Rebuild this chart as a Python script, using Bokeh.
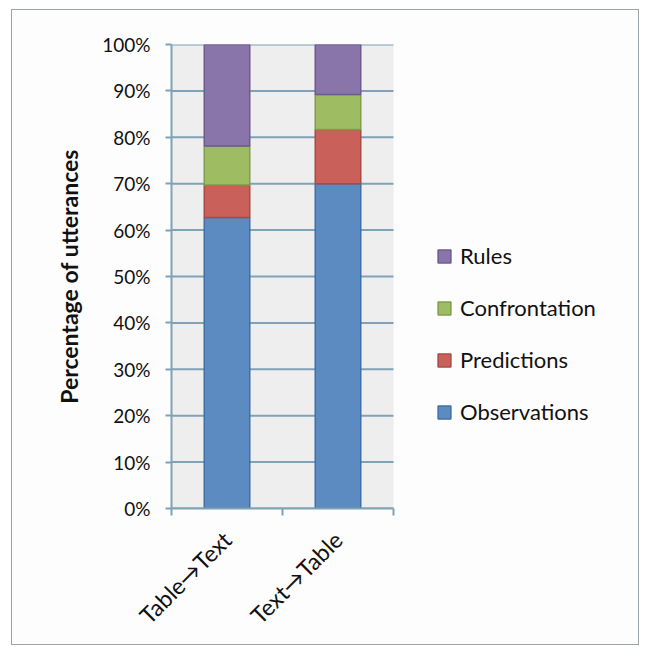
from math import pi
from bokeh.plotting import figure
from bokeh.models import (ColumnDataSource, FixedTicker, NumeralTickFormatter, Range1d,
                          Legend, LegendItem, BoxAnnotation)
from bokeh.embed import file_html
from bokeh.resources import INLINE

categories = ["Table→Text", "Text→Table"]
observations = [0.627, 0.700]
predictions = [0.070, 0.117]
confrontation = [0.084, 0.075]
rules = [0.219, 0.108]
y_ticks = [i / 10 for i in range(11)]

series = ["observations", "predictions", "confrontation", "rules"]
names = ["Observations", "Predictions", "Confrontation", "Rules"]
fills = ["#5b8bc1", "#c9605a", "#9ebd62", "#8a75ab"]
lines = ["#3f6fa5", "#a94a45", "#7f9d48", "#6d5a8e"]

n_cat = len(categories)
xpos = [i + 0.5 for i in range(n_cat)]
source = ColumnDataSource(dict(x=xpos, observations=observations, predictions=predictions,
                               confrontation=confrontation, rules=rules))

FONT = "Lato"
# frame: left 170 .. right 626 (px in window); categories occupy 170..392
frame_left, frame_right, cat_right = 159, 615, 381  # relative to figure (margin 11)
x_max = n_cat * (frame_right - frame_left) / (cat_right - frame_left)

p = figure(width=628, height=636, output_backend="svg", toolbar_location=None,
           x_range=Range1d(0, x_max), y_range=Range1d(0, 1),
           min_border_left=frame_left, min_border_right=628 - frame_right,
           min_border_top=34, min_border_bottom=138)
p.margin = (9, 0, 0, 11)
p.styles = {"border": "1.5px solid #9aa3a8"}

p.background_fill_color = "#fdfdfd"
p.border_fill_color = "#fdfdfd"
p.outline_line_color = None
p.xgrid.grid_line_color = None
p.ygrid.grid_line_color = None

grid_col = "#7fa2b6"
p.add_layout(BoxAnnotation(left=0, right=n_cat, bottom=0, top=1, fill_color="#eeeeee",
                           fill_alpha=1, line_color=None, level="underlay"))
p.segment(x0=0, x1=n_cat, y0=y_ticks, y1=y_ticks, line_color=grid_col, line_width=2)

renderers = p.vbar_stack(series, x="x", width=0.41, source=source,
                         fill_color=fills, line_color=lines, line_width=1.5)

ya = p.yaxis[0]
ya.ticker = FixedTicker(ticks=y_ticks)
ya.formatter = NumeralTickFormatter(format="0%")
ya.axis_line_color = grid_col
ya.axis_line_width = 2
ya.major_tick_line_color = grid_col
ya.major_tick_line_width = 2
ya.major_tick_out = 6
ya.major_tick_in = 0
ya.minor_tick_line_color = None
ya.major_label_text_font = FONT
ya.major_label_text_font_size = "19px"
ya.major_label_text_color = "#111111"
ya.major_label_standoff = 15
ya.axis_label = "Percentage of utterances"
ya.axis_label_text_font = FONT
ya.axis_label_text_font_size = "23px"
ya.axis_label_text_font_style = "bold"
ya.axis_label_text_color = "#111111"
ya.axis_label_standoff = 16

xa = p.xaxis[0]
xa.bounds = (0, n_cat)
xa.ticker = FixedTicker(ticks=xpos, minor_ticks=[float(i) for i in range(n_cat + 1)])
xa.major_label_overrides = {x: c for x, c in zip(xpos, categories)}
xa.major_label_orientation = pi / 4
xa.major_tick_line_color = None
xa.minor_tick_line_color = grid_col
xa.minor_tick_line_width = 2
xa.minor_tick_out = 7
xa.minor_tick_in = 0
xa.axis_line_color = grid_col
xa.axis_line_width = 2
xa.major_label_text_font = FONT
xa.major_label_text_font_size = "23px"
xa.major_label_text_color = "#111111"
xa.major_label_standoff = 20

items = [LegendItem(label=n, renderers=[r]) for n, r in zip(names, renderers)][::-1]
legend = Legend(items=items, location=(265, 83), orientation="vertical",
                glyph_width=16, glyph_height=16, label_height=16, spacing=25,
                label_standoff=8, padding=0, margin=0,
                label_text_font=FONT, label_text_font_size="22px",
                label_text_color="#111111",
                border_line_color=None, background_fill_alpha=0)
p.add_layout(legend, "center")

open("out.html", "w").write(file_html(p, INLINE))
